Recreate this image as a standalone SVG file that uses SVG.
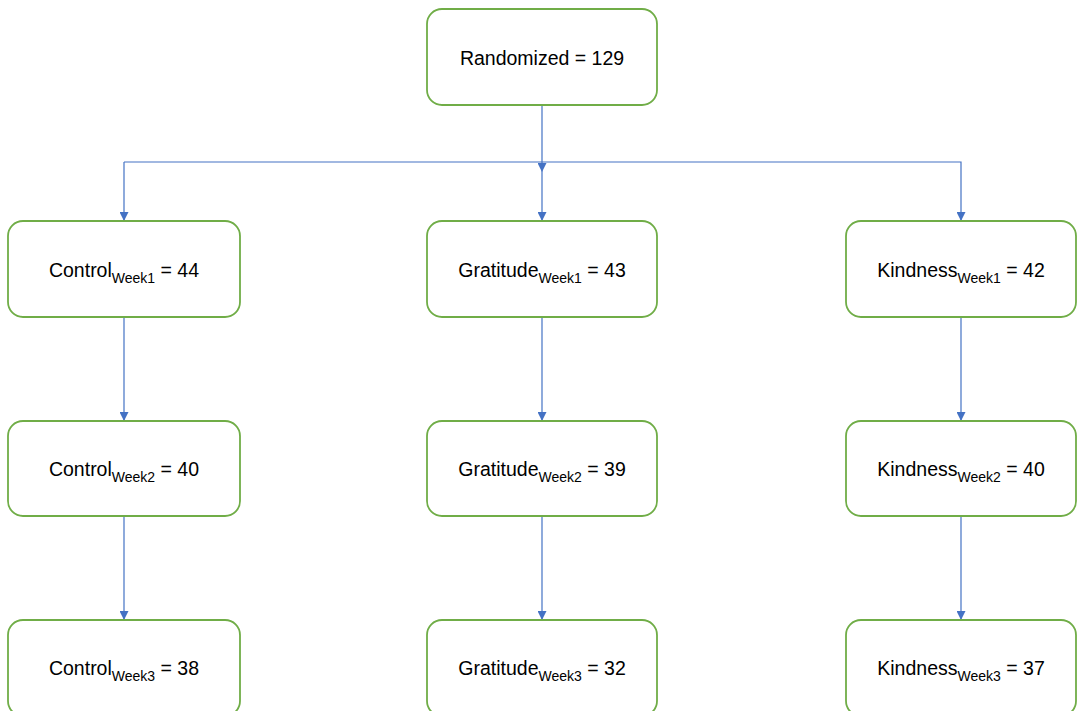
<svg xmlns="http://www.w3.org/2000/svg" width="1078" height="711" viewBox="0 0 1078 711">
<style>
.box{fill:#fff;stroke:#70AD47;stroke-width:1.8}
.t{font-family:"Liberation Sans",Arial,sans-serif;font-size:19.5px;fill:#000;text-anchor:middle}
.s{font-size:14px}
.c{fill:none;stroke:#4472C4;stroke-width:1.2}
</style>
<defs>
<marker id="ah" viewBox="0 0 10 10" refX="10" refY="5" markerWidth="9" markerHeight="9" markerUnits="userSpaceOnUse" orient="auto">
<path d="M0,0 L10,5 L0,10 z" fill="#4472C4"/>
</marker>
</defs>
<rect width="1078" height="711" fill="#fff"/>
<g id="connectors">
<path class="c" d="M542,105 V172" marker-end="url(#ah)"/>
<path class="c" d="M124,162 H961 V221" marker-end="url(#ah)"/>
<path class="c" d="M124,162 V221" marker-end="url(#ah)"/>
<path class="c" d="M542,172 V221" marker-end="url(#ah)"/>
<path class="c" d="M124,317 V421" marker-end="url(#ah)"/>
<path class="c" d="M542,317 V421" marker-end="url(#ah)"/>
<path class="c" d="M961,317 V421" marker-end="url(#ah)"/>
<path class="c" d="M124,516 V620" marker-end="url(#ah)"/>
<path class="c" d="M542,516 V620" marker-end="url(#ah)"/>
<path class="c" d="M961,516 V620" marker-end="url(#ah)"/>
</g>
<g id="randomized"><rect class="box" x="427" y="9" width="230" height="96" rx="15"/><text class="t" x="542" y="65">Randomized = 129</text></g>
<g id="control1"><rect class="box" x="8" y="221" width="232" height="96" rx="15"/><text class="t" x="124" y="277">Control<tspan class="s" dy="6">Week1</tspan><tspan dy="-6"> = 44</tspan></text></g>
<g id="gratitude1"><rect class="box" x="427" y="221" width="230" height="96" rx="15"/><text class="t" x="542" y="277">Gratitude<tspan class="s" dy="6">Week1</tspan><tspan dy="-6"> = 43</tspan></text></g>
<g id="kindness1"><rect class="box" x="846" y="221" width="230" height="96" rx="15"/><text class="t" x="961" y="277">Kindness<tspan class="s" dy="6">Week1</tspan><tspan dy="-6"> = 42</tspan></text></g>
<g id="control2"><rect class="box" x="8" y="421" width="232" height="95" rx="15"/><text class="t" x="124" y="476">Control<tspan class="s" dy="6">Week2</tspan><tspan dy="-6"> = 40</tspan></text></g>
<g id="gratitude2"><rect class="box" x="427" y="421" width="230" height="95" rx="15"/><text class="t" x="542" y="476">Gratitude<tspan class="s" dy="6">Week2</tspan><tspan dy="-6"> = 39</tspan></text></g>
<g id="kindness2"><rect class="box" x="846" y="421" width="230" height="95" rx="15"/><text class="t" x="961" y="476">Kindness<tspan class="s" dy="6">Week2</tspan><tspan dy="-6"> = 40</tspan></text></g>
<g id="control3"><rect class="box" x="8" y="620" width="232" height="96" rx="15"/><text class="t" x="124" y="675">Control<tspan class="s" dy="6">Week3</tspan><tspan dy="-6"> = 38</tspan></text></g>
<g id="gratitude3"><rect class="box" x="427" y="620" width="230" height="96" rx="15"/><text class="t" x="542" y="675">Gratitude<tspan class="s" dy="6">Week3</tspan><tspan dy="-6"> = 32</tspan></text></g>
<g id="kindness3"><rect class="box" x="846" y="620" width="230" height="96" rx="15"/><text class="t" x="961" y="675">Kindness<tspan class="s" dy="6">Week3</tspan><tspan dy="-6"> = 37</tspan></text></g>
</svg>
